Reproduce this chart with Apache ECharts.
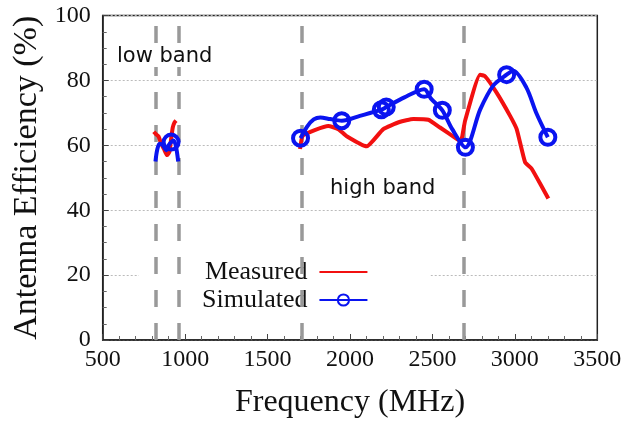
<!DOCTYPE html>
<html>
<head>
<meta charset="utf-8">
<script src="https://cdn.jsdelivr.net/npm/echarts@6/dist/echarts.min.js"></script>
<style>html,body{margin:0;padding:0;background:#fff;}#c{width:635px;height:424px;}</style>
</head>
<body>
<div id="c"></div>
<script>
// Measured (red) – low band and high band [MHz, %]
const measuredLow = [[810,64.2],[822,63.5],[838,62.8],[855,60.5],[875,58.5],[890,57],[905,58],[915,62],[925,65.5],[935,67],[945,67.6]];
const measuredHigh = [[1697,58.9],[1713,63.0],[1790,64.8],[1868,66.0],[1929,65.0],[1980,62.8],[2101,59.7],[2202,65.0],[2300,67.2],[2384,68.1],[2475,67.9],[2546,65.5],[2647,62.0],[2672,61.2],[2698,67.6],[2789,81.8],[2819,81.3],[2890,76.2],[2971,69.1],[3011,65.0],[3062,54.8],[3102,52.8],[3203,43.6]];
// Simulated (blue) – third value = 1 where a circle marker is drawn
const simulatedLow = [[820,55,0],[830,58.5,0],[845,60.5,0],[865,60,0],[885,58.5,0],[900,60,0],[915,61,1],[930,61.5,0],[945,59.5,0],[958,55,0]];
const simulatedHigh = [[1700,62.2,1],[1740,65.8,0],[1780,68,0],[1820,68.6,0],[1880,68.1,0],[1950,67.6,1],[2060,69.1,0],[2190,71,1],[2220,71.8,1],[2330,74.8,0],[2450,77.3,1],[2490,74.5,0],[2560,70.8,1],[2620,65,0],[2700,59.4,1],[2790,71.1,0],[2870,78.5,0],[2950,81.8,1],[2990,83,0],[3070,77.8,0],[3130,70,0],[3200,62.5,1]];
// Band edge reference lines (MHz)
const bandEdges = [824, 960, 1710, 2690];
const xTicks = [500, 1000, 1500, 2000, 2500, 3000, 3500];
const yTicks = [0, 20, 40, 60, 80, 100];

const serif = 'Liberation Serif';
const gap = [1300, null];
const measuredData = measuredLow.concat([gap], measuredHigh);
const toItem = p => ({value: [p[0], p[1]], symbol: p[2] ? 'circle' : 'none'});
const simulatedData = simulatedLow.map(toItem).concat([{value: gap, symbol: 'none'}], simulatedHigh.map(toItem));

const red = '#f21010', blue = '#0a14f0';
const chart = echarts.init(document.getElementById('c'), null, {renderer:'canvas'});
chart.setOption({
  animation: false,
  backgroundColor: '#fff',
  grid: {left: 102.7, right: 37.7, top: 15.6, bottom: 81.3, show: true, borderColor: '#222', borderWidth: 1.5, backgroundColor: 'transparent'},
  xAxis: {
    type: 'value', min: xTicks[0], max: xTicks[xTicks.length-1], interval: 500,
    axisLine: {show: true, lineStyle: {color: '#222', width: 1.5}},
    axisTick: {show: true, inside: true, length: 6, lineStyle: {color: '#444'}},
    minorTick: {show: true, splitNumber: 5, length: 4, lineStyle: {color: '#666'}},
    splitLine: {show: false},
    axisLabel: {fontFamily: serif, fontSize: 24, color: '#111', margin: 8, formatter: v => String(v)},
    name: 'Frequency (MHz)', nameLocation: 'middle', nameGap: 47,
    nameTextStyle: {fontFamily: serif, fontSize: 32, color: '#111'}
  },
  yAxis: {
    type: 'value', min: yTicks[0], max: yTicks[yTicks.length-1], interval: 20,
    axisLine: {show: true, lineStyle: {color: '#222', width: 1.5}},
    axisTick: {show: true, inside: true, length: 6, lineStyle: {color: '#444'}},
    minorTick: {show: true, splitNumber: 4, length: 4, lineStyle: {color: '#666'}},
    splitLine: {show: true, lineStyle: {color: '#bbb', type: [2, 2], width: 1}},
    axisLabel: {fontFamily: serif, fontSize: 24, color: '#111', margin: 12, formatter: v => String(v)},
    name: 'Antenna Efficiency (%)', nameLocation: 'middle', nameGap: 49, nameRotate: 90,
    nameTextStyle: {fontFamily: serif, fontSize: 34, color: '#111'}
  },
  legend: {
    orient: 'vertical', left: 139, top: 255, align: 'right', z: 1,
    backgroundColor: '#fff', padding: [4, 62, 4, 63],
    itemWidth: 48, itemHeight: 14, itemGap: 2,
    textStyle: {fontFamily: serif, fontSize: 26, color: '#111', padding: [0, 7, 0, 0]},
    data: ['Measured', 'Simulated']
  },
  graphic: [
    {type: 'text', left: 117, top: 46, z: 100, style: {text: 'low band', font: '21px "DejaVu Sans"', fill: '#111', backgroundColor: '#fff'}},
    {type: 'text', left: 330, top: 178, z: 100, style: {text: 'high band', font: '21px "DejaVu Sans"', fill: '#111'}}
  ],
  series: [
    {
      name: 'Measured', type: 'line', z: 3, data: measuredData, connectNulls: false,
      showSymbol: false, symbol: 'circle', smooth: 0.15,
      lineStyle: {color: red, width: 4},
      itemStyle: {color: 'rgba(0,0,0,0)', borderColor: 'rgba(0,0,0,0)', borderWidth: 0},
      markLine: {
        silent: true, symbol: 'none', label: {show: false}, z: 2,
        lineStyle: {color: '#999', width: 3.5, type: [17, 16]},
        data: bandEdges.map(v => ({xAxis: v}))
      }
    },
    {
      name: 'Simulated', type: 'line', z: 4, data: simulatedData, connectNulls: false,
      symbol: 'circle', symbolSize: 15, smooth: 0.3,
      lineStyle: {color: blue, width: 4},
      itemStyle: {color: 'rgba(255,255,255,0)', borderColor: blue, borderWidth: 4}
    }
  ]
});
</script>
</body>
</html>
